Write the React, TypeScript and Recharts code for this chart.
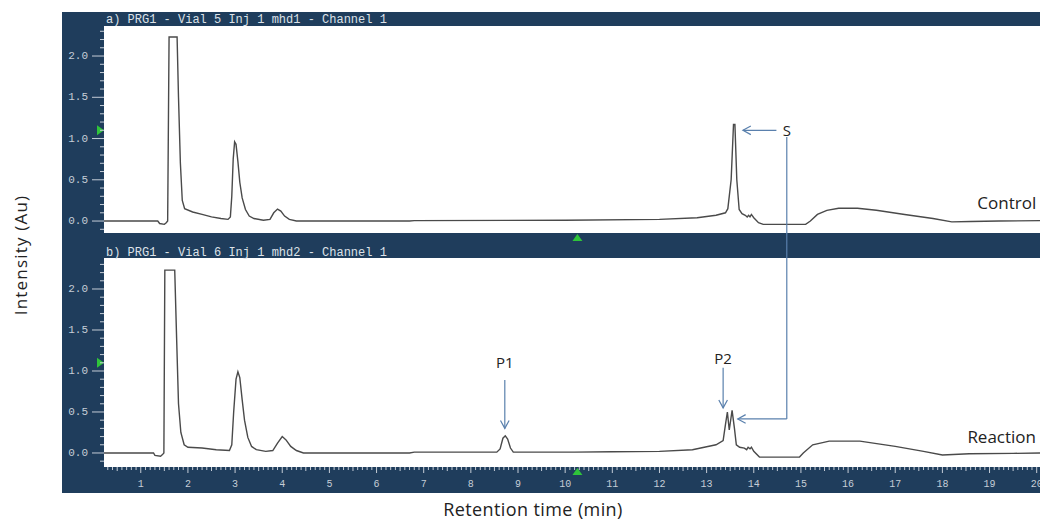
import { CartesianGrid, ComposedChart, Line, ReferenceDot, ReferenceLine, XAxis, YAxis } from "recharts"

// retention time (min) and absorbance (Au)
const CONTROL_TIME = [
  0.22, 1.36, 1.4, 1.5, 1.54, 1.57, 1.6, 1.77, 1.8, 1.84, 1.88, 1.93, 2.1, 2.3, 2.5, 2.7, 2.85, 2.9, 2.93, 2.96,
  2.99, 3.02, 3.06, 3.1, 3.15, 3.22, 3.3, 3.4, 3.6, 3.74, 3.82, 3.9, 3.97, 4.05, 4.15, 4.3, 6.7, 6.8, 10.0, 12.0,
  12.8, 13.2, 13.4, 13.45, 13.52, 13.57, 13.6, 13.64, 13.69, 13.75, 13.82, 13.86, 13.89, 13.92, 13.95, 14.0, 14.1,
  14.2, 15.1, 15.2, 15.35, 15.55, 15.8, 16.2, 16.6, 17.2, 17.8, 18.2, 18.6, 19.2, 20.07,
]
const CONTROL_AU = [
  0.0, 0.0, -0.03, -0.04, -0.02, 0.0, 2.23, 2.23, 1.5, 0.7, 0.25, 0.15, 0.11, 0.08, 0.05, 0.03, 0.02, 0.05, 0.3, 0.75,
  0.96, 0.93, 0.72, 0.47, 0.28, 0.14, 0.06, 0.03, 0.01, 0.02, 0.1, 0.145, 0.12, 0.06, 0.02, 0.0, 0.0, 0.005, 0.01, 0.02,
  0.04, 0.07, 0.1, 0.15, 0.5, 1.17, 1.17, 0.5, 0.14, 0.09, 0.07, 0.05, 0.07, 0.05, 0.08, 0.04, -0.02,
  -0.04, -0.04, 0.0, 0.08, 0.13, 0.155, 0.155, 0.13, 0.08, 0.03, -0.01, -0.005, 0.0, 0.005,
]

const REACTION_TIME = [
  0.22, 1.27, 1.3, 1.42, 1.46, 1.49, 1.51, 1.72, 1.76, 1.8, 1.85, 1.92, 2.0, 2.3, 2.6, 2.88, 2.93, 2.97, 3.02, 3.06,
  3.1, 3.15, 3.2, 3.27, 3.35, 3.45, 3.65, 3.8, 3.9, 4.0, 4.08, 4.18, 4.3, 4.45, 6.7, 6.8, 8.55, 8.62, 8.68, 8.73,
  8.78, 8.84, 8.9, 10.2, 11.0, 12.0, 12.7, 13.2, 13.35, 13.4, 13.44, 13.48, 13.54, 13.59, 13.63, 13.7, 13.8, 13.85,
  13.88, 13.92, 13.95, 14.0, 14.12, 14.97, 15.05, 15.25, 15.6, 16.25, 17.0, 17.6, 18.0, 18.57, 19.5, 20.07,
]
const REACTION_AU = [
  0.0, 0.0, -0.03, -0.04, -0.02, 0.0, 2.23, 2.23, 1.4, 0.6, 0.25, 0.1, 0.07, 0.06, 0.04, 0.03, 0.1, 0.5, 0.9, 0.99,
  0.92, 0.65, 0.4, 0.19, 0.08, 0.04, 0.02, 0.03, 0.12, 0.2, 0.16, 0.08, 0.03, 0.0, 0.0, 0.01, 0.01, 0.05, 0.18, 0.21,
  0.17, 0.06, 0.01, 0.01, 0.015, 0.02, 0.04, 0.1, 0.15, 0.35, 0.5, 0.28, 0.52, 0.3, 0.1, 0.07, 0.06, 0.04,
  0.07, 0.05, 0.07, 0.02, -0.05, -0.05, 0.0, 0.1, 0.145, 0.145, 0.08, 0.02, -0.025, -0.01, -0.005, 0.0,
]

const X_MAJOR_TICKS = [1, 2, 3, 4, 5, 6, 7, 8, 9, 10, 11, 12, 13, 14, 15, 16, 17, 18, 19, 20]
const Y_MAJOR_TICKS = [0, 0.5, 1.0, 1.5, 2.0]

const X_DOMAIN: [number, number] = [0.22, 20.07]
const DARK = "#1f3d5c"
const TICK_COLOR = "#c5cdd7"
const ARROW = "#5a80ad"
const TRACE = "#4a4a4a"
const MONO = "'Liberation Mono', 'DejaVu Sans Mono', monospace"
const SANS = "'Open Sans', 'Noto Sans', sans-serif"

const round1 = (v: number) => Math.round(v * 10) / 10
const xTicks: number[] = []
for (let v = 0.3; v <= 20.05; v += 0.1) xTicks.push(round1(v))
const yTicks: number[] = []
for (let v = -0.1; v <= 2.35; v += 0.1) yTicks.push(round1(v))

const controlData = CONTROL_TIME.map((t, i) => ({ t, v: CONTROL_AU[i] }))
const reactionData = REACTION_TIME.map((t, i) => ({ t, v: REACTION_AU[i] }))

function YTick({ x, y, payload }: any) {
  const v = payload.value as number
  const major = Y_MAJOR_TICKS.some((m) => Math.abs(m - v) < 1e-6)
  return (
    <g>
      <line x1={x} x2={x - (major ? 12 : 4)} y1={y} y2={y} stroke={TICK_COLOR} strokeWidth={1} />
      {major && (
        <text x={x - 16} y={y} textAnchor="end" dominantBaseline="central" fill={TICK_COLOR} fontSize={11} fontFamily={MONO}>
          {v.toFixed(1)}
        </text>
      )}
    </g>
  )
}

function XTick({ x, y, payload }: any) {
  const v = payload.value as number
  const major = X_MAJOR_TICKS.includes(v)
  const half = Math.abs(v * 2 - Math.round(v * 2)) < 1e-6
  return (
    <g>
      <line x1={x} x2={x} y1={y} y2={y + (major ? 6 : half ? 4 : 3)} stroke={TICK_COLOR} strokeWidth={1} />
      {major && (
        <text x={x} y={y + 17} textAnchor="middle" dominantBaseline="central" fill={TICK_COLOR} fontSize={10} fontFamily={MONO}>
          {v}
        </text>
      )}
    </g>
  )
}

function arrowShape(props: any) {
  const { x1, y1, x2, y2 } = props
  const ang = Math.atan2(y2 - y1, x2 - x1)
  const len = 9
  const spread = 0.5
  const a = `${x2 - len * Math.cos(ang - spread)},${y2 - len * Math.sin(ang - spread)}`
  const b = `${x2 - len * Math.cos(ang + spread)},${y2 - len * Math.sin(ang + spread)}`
  return (
    <g>
      <line x1={x1} y1={y1} x2={x2} y2={y2} stroke={ARROW} strokeWidth={1.2} />
      <polyline points={`${a} ${x2},${y2} ${b}`} fill="none" stroke={ARROW} strokeWidth={1.2} />
    </g>
  )
}

function leftMarker(props: any) {
  const { cx, cy } = props
  return <polygon points={`${cx - 7},${cy - 5} ${cx},${cy} ${cx - 7},${cy + 5}`} fill="#2fc43a" />
}

function bottomMarker(props: any) {
  const { cx, cy } = props
  return <polygon points={`${cx - 5},${cy + 8} ${cx},${cy + 1} ${cx + 5},${cy + 8}`} fill="#2fc43a" />
}

function textShape(label: string, anchor: "start" | "middle" = "middle", size = 14) {
  return (props: any) => (
    <text x={props.cx} y={props.cy} textAnchor={anchor} dominantBaseline="central" fontSize={size} fontFamily={SANS} fill="#222">
      {label}
    </text>
  )
}

export default function App() {
  return (
    <div style={{ position: "absolute", left: 0, top: 0, width: 1040, height: 520, background: "#fff", overflow: "hidden" }}>
      <div style={{ position: "absolute", left: 62, top: 12, width: 978, height: 481, background: DARK }} />

      <div style={{ position: "absolute", left: 62, top: 12 }}>
        <ComposedChart width={978} height={236} data={controlData} margin={{ top: 14, right: 0, bottom: 15, left: 0 }}>
          <CartesianGrid horizontal={false} vertical={false} fill="#ffffff" fillOpacity={1} />
          <XAxis type="number" dataKey="t" domain={X_DOMAIN} allowDataOverflow hide />
          <YAxis
            type="number"
            domain={[-0.145, 2.364]}
            allowDataOverflow
            ticks={yTicks}
            interval={0}
            width={42}
            tickSize={0}
            tickMargin={0}
            tickLine={false}
            axisLine={false}
            tick={<YTick />}
          />
          <Line type="linear" dataKey="v" stroke={TRACE} strokeWidth={1.4} dot={false} isAnimationActive={false} />
          <ReferenceLine segment={[{ x: 14.7, y: 1.02 }, { x: 14.7, y: -0.5 }]} stroke={ARROW} strokeWidth={1.2} ifOverflow="visible" />
          <ReferenceLine segment={[{ x: 14.48, y: 1.1 }, { x: 13.77, y: 1.1 }]} ifOverflow="visible" shape={arrowShape} />
          <ReferenceDot x={14.7} y={1.1} ifOverflow="visible" shape={textShape("S", "middle", 15)} />
          <ReferenceDot x={18.74} y={0.22} ifOverflow="visible" shape={textShape("Control", "start", 17)} />
          <ReferenceDot x={0.22} y={1.1} ifOverflow="visible" shape={leftMarker} />
          <ReferenceDot x={10.26} y={-0.145} ifOverflow="visible" shape={bottomMarker} />
        </ComposedChart>
      </div>

      <div style={{ position: "absolute", left: 62, top: 248 }}>
        <ComposedChart width={978} height={245} data={reactionData} margin={{ top: 10, right: 0, bottom: 0, left: 0 }}>
          <CartesianGrid horizontal={false} vertical={false} fill="#ffffff" fillOpacity={1} />
          <XAxis
            type="number"
            dataKey="t"
            domain={X_DOMAIN}
            allowDataOverflow
            ticks={xTicks}
            interval={0}
            height={26}
            tickSize={0}
            tickMargin={0}
            tickLine={false}
            axisLine={false}
            tick={<XTick />}
          />
          <YAxis
            type="number"
            domain={[-0.171, 2.378]}
            allowDataOverflow
            ticks={yTicks}
            interval={0}
            width={42}
            tickSize={0}
            tickMargin={0}
            tickLine={false}
            axisLine={false}
            tick={<YTick />}
          />
          <Line type="linear" dataKey="v" stroke={TRACE} strokeWidth={1.4} dot={false} isAnimationActive={false} />
          <ReferenceLine segment={[{ x: 14.7, y: 2.7 }, { x: 14.7, y: 0.415 }]} stroke={ARROW} strokeWidth={1.2} ifOverflow="visible" />
          <ReferenceLine segment={[{ x: 14.7, y: 0.415 }, { x: 13.66, y: 0.415 }]} ifOverflow="visible" shape={arrowShape} />
          <ReferenceLine segment={[{ x: 8.72, y: 0.89 }, { x: 8.72, y: 0.3 }]} ifOverflow="visible" shape={arrowShape} />
          <ReferenceLine segment={[{ x: 13.35, y: 1.04 }, { x: 13.35, y: 0.55 }]} ifOverflow="visible" shape={arrowShape} />
          <ReferenceDot x={8.72} y={1.11} ifOverflow="visible" shape={textShape("P1", "middle", 15)} />
          <ReferenceDot x={13.35} y={1.16} ifOverflow="visible" shape={textShape("P2", "middle", 15)} />
          <ReferenceDot x={18.53} y={0.195} ifOverflow="visible" shape={textShape("Reaction", "start", 17)} />
          <ReferenceDot x={0.22} y={1.1} ifOverflow="visible" shape={leftMarker} />
          <ReferenceDot x={10.26} y={-0.171} ifOverflow="visible" shape={bottomMarker} />
        </ComposedChart>
      </div>

      <div style={{ position: "absolute", left: 106, top: 13, fontFamily: MONO, fontSize: 12, lineHeight: "14px", color: "#dde2e8", whiteSpace: "pre" }}>
        a) PRG1 - Vial 5 Inj 1 mhd1 - Channel 1
      </div>
      <div style={{ position: "absolute", left: 106, top: 246, fontFamily: MONO, fontSize: 12, lineHeight: "14px", color: "#dde2e8", whiteSpace: "pre" }}>
        b) PRG1 - Vial 6 Inj 1 mhd2 - Channel 1
      </div>

      <div
        style={{
          position: "absolute",
          left: 20,
          top: 255,
          transform: "translate(-50%, -50%) rotate(-90deg)",
          fontFamily: SANS,
          fontSize: 17,
          letterSpacing: 1.2,
          color: "#222",
          whiteSpace: "nowrap",
        }}
      >
        Intensity (Au)
      </div>
      <div
        style={{
          position: "absolute",
          left: 533,
          top: 509,
          transform: "translate(-50%, -50%)",
          fontFamily: SANS,
          fontSize: 18,
          letterSpacing: 0.4,
          color: "#222",
          whiteSpace: "nowrap",
        }}
      >
        Retention time (min)
      </div>
    </div>
  )
}
